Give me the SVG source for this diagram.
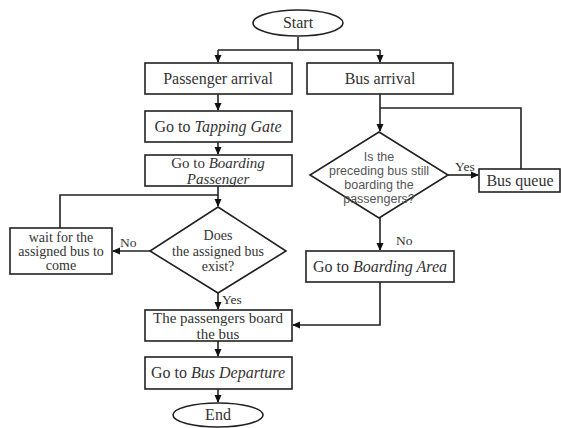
<svg xmlns="http://www.w3.org/2000/svg" width="561" height="428" viewBox="0 0 561 428">
<defs>
<marker id="ah" markerWidth="8" markerHeight="8" refX="7" refY="4" orient="auto" markerUnits="userSpaceOnUse">
<path d="M0,0.5 L8,4 L0,7.5 z" fill="#111"/>
</marker>
<style>
.s{fill:#fff;stroke:#222;stroke-width:1.6}
.c{fill:none;stroke:#222;stroke-width:1.6}
.t{font-family:"Liberation Serif","Times New Roman",serif;font-size:16px;fill:#333;text-anchor:middle}
.t2{font-family:"Liberation Serif","Times New Roman",serif;font-size:15px;fill:#333;text-anchor:middle}
.tl{font-family:"Liberation Serif","Times New Roman",serif;font-size:14px;fill:#333;text-anchor:middle}
.a{font-family:"Liberation Sans",Arial,sans-serif;font-size:12.5px;fill:#555;text-anchor:middle}
.l{font-family:"Liberation Serif","Times New Roman",serif;font-size:13.5px;fill:#333}
</style>
</defs>
<rect width="561" height="428" fill="#fff"/>
<g id="connectors">
<path class="c" d="M298,37 V50 M218,50 H380"/>
<path class="c" d="M218,50 V62" marker-end="url(#ah)"/>
<path class="c" d="M380,50 V62" marker-end="url(#ah)"/>
<path class="c" d="M218,94 V110" marker-end="url(#ah)"/>
<path class="c" d="M218,142 V154" marker-end="url(#ah)"/>
<path class="c" d="M218,186 V206" marker-end="url(#ah)"/>
<path class="c" d="M60,228 V195 H218"/>
<path class="c" d="M150,251 H113" marker-end="url(#ah)"/>
<path class="c" d="M218,293 V309" marker-end="url(#ah)"/>
<path class="c" d="M218,341 V356" marker-end="url(#ah)"/>
<path class="c" d="M218,389 V402" marker-end="url(#ah)"/>
<path class="c" d="M380,94 V131" marker-end="url(#ah)"/>
<path class="c" d="M521,169 V108 H380"/>
<path class="c" d="M448,175 H478" marker-end="url(#ah)"/>
<path class="c" d="M380,218 V250" marker-end="url(#ah)"/>
<path class="c" d="M380,282 V325 H293" marker-end="url(#ah)"/>
<text class="l" x="120" y="247">No</text>
<text class="l" x="222" y="304">Yes</text>
<text class="l" x="455" y="171">Yes</text>
<text class="l" x="396" y="245">No</text>
</g>
<g id="start">
<ellipse class="s" cx="298" cy="23" rx="45" ry="13"/>
<text class="t" x="298" y="28">Start</text>
</g>
<g id="passenger-arrival">
<rect class="s" x="145" y="63" width="147" height="31"/>
<text class="t" x="218" y="84">Passenger arrival</text>
</g>
<g id="bus-arrival">
<rect class="s" x="307" y="63" width="146" height="31"/>
<text class="t" x="380" y="84">Bus arrival</text>
</g>
<g id="tapping-gate">
<rect class="s" x="145" y="111" width="147" height="31"/>
<text class="t" x="218" y="132">Go to <tspan font-style="italic">Tapping Gate</tspan></text>
</g>
<g id="boarding-passenger">
<rect class="s" x="145" y="155" width="147" height="31"/>
<text class="t2" x="218" y="168">Go to <tspan font-style="italic">Boarding</tspan></text>
<text class="t2" x="218" y="184" font-style="italic">Passenger</text>
</g>
<g id="bus-exist">
<path class="s" d="M218,207 L286,251 L218,293 L150,251 Z"/>
<text class="tl" x="218" y="240">Does</text>
<text class="tl" x="218" y="256">the assigned bus</text>
<text class="tl" x="218" y="271">exist?</text>
</g>
<g id="wait">
<rect class="s" x="10" y="228" width="102" height="46"/>
<text class="tl" x="61" y="242">wait for the</text>
<text class="tl" x="61" y="256">assigned bus to</text>
<text class="tl" x="61" y="270">come</text>
</g>
<g id="preceding">
<path class="s" d="M379,132 L448,175 L379,218 L310,175 Z"/>
<text class="a" x="379" y="161">Is the</text>
<text class="a" x="379" y="175">preceding bus still</text>
<text class="a" x="379" y="189">boarding the</text>
<text class="a" x="379" y="203">passengers?</text>
</g>
<g id="bus-queue">
<rect class="s" x="479" y="169" width="81" height="23"/>
<text class="t" x="520" y="186">Bus queue</text>
</g>
<g id="boarding-area">
<rect class="s" x="306" y="251" width="148" height="31"/>
<text class="t" x="380" y="272">Go to <tspan font-style="italic">Boarding Area</tspan></text>
</g>
<g id="board-bus">
<rect class="s" x="145" y="310" width="147" height="31"/>
<text class="t2" x="218" y="323">The passengers board</text>
<text class="t2" x="218" y="339">the bus</text>
</g>
<g id="bus-departure">
<rect class="s" x="145" y="357" width="147" height="32"/>
<text class="t" x="218" y="378">Go to <tspan font-style="italic">Bus Departure</tspan></text>
</g>
<g id="end">
<ellipse class="s" cx="218" cy="415" rx="45" ry="12"/>
<text class="t" x="218" y="420">End</text>
</g>
</svg>
